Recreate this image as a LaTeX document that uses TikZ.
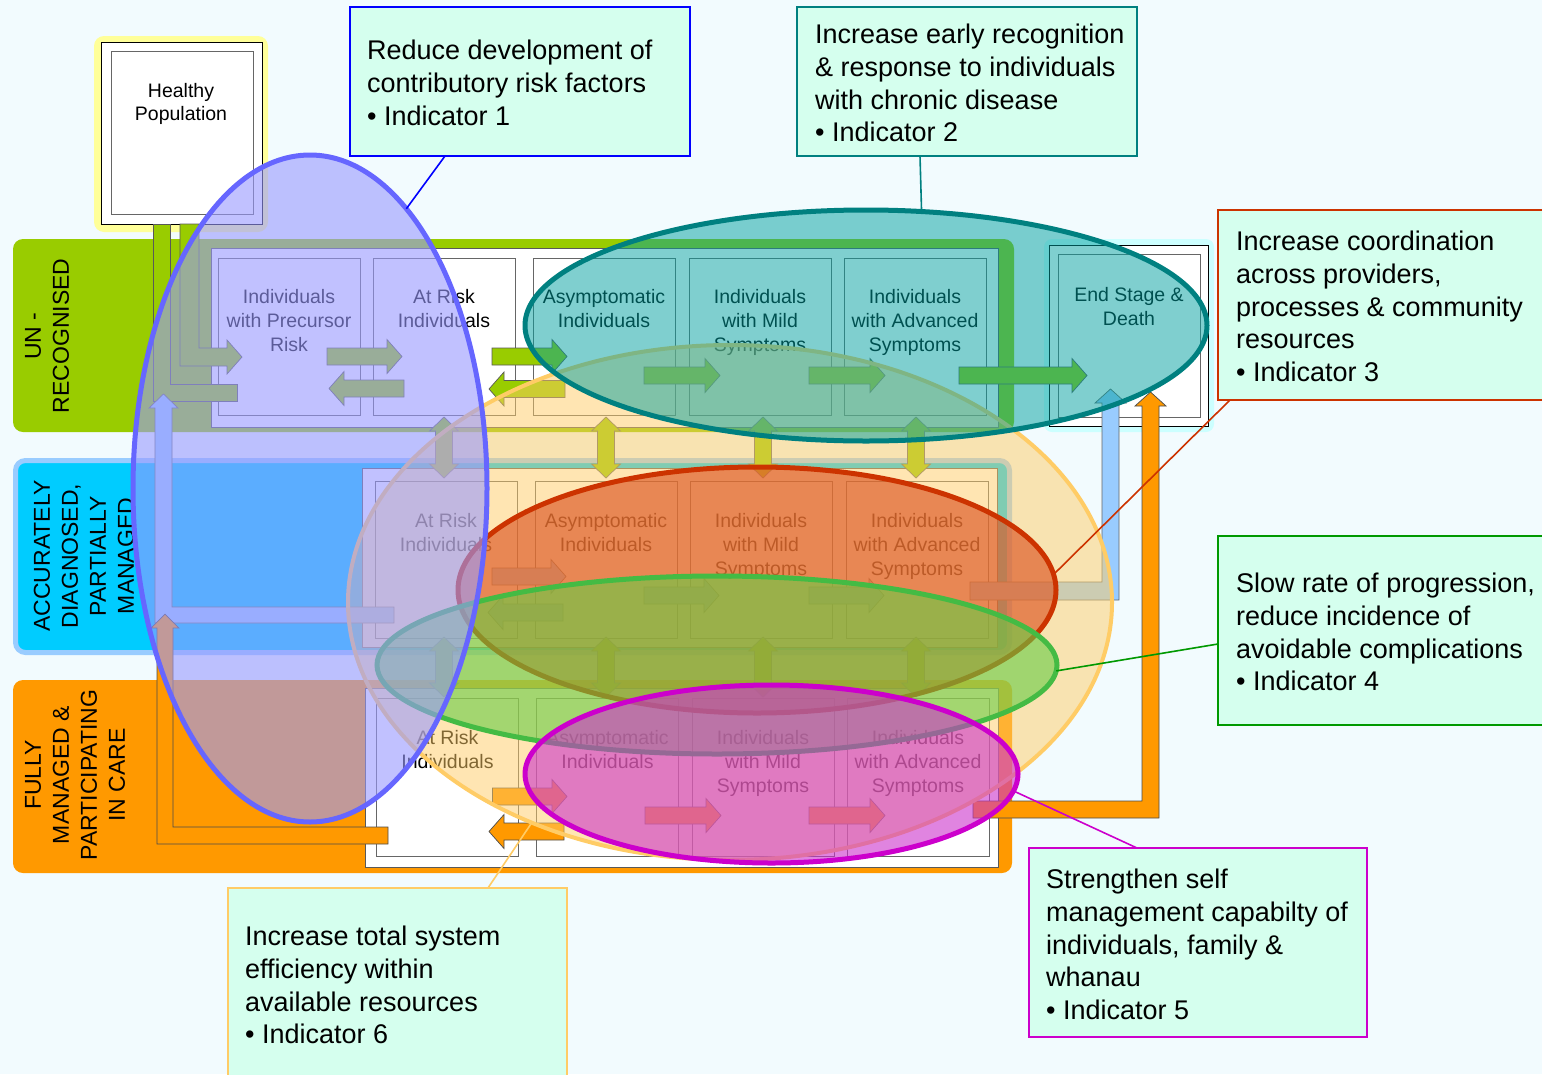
\documentclass[tikz,border=0pt]{standalone}
\usepackage{fontspec}
\setmainfont{Liberation Sans}
\usetikzlibrary{calc,shapes.geometric}
\definecolor{bgc}{HTML}{F2FBFE}
\definecolor{bandA}{HTML}{99CC00}
\definecolor{bandB}{HTML}{00CCFF}
\definecolor{bandBrim}{HTML}{99CCFF}
\definecolor{bandC}{HTML}{FF9900}
\definecolor{glowY}{HTML}{FFFF99}
\definecolor{glowC}{HTML}{CCFFFF}
\definecolor{calloutfill}{HTML}{D5FFEE}
\definecolor{arrG}{HTML}{99CC00}
\definecolor{arrB}{HTML}{99CCFF}
\definecolor{arrO}{HTML}{FF9900}
\definecolor{arrY}{HTML}{99CC00}
\definecolor{effS}{HTML}{FFCC66}
\definecolor{effF}{HTML}{FFCC66}
\definecolor{redS}{HTML}{CC3300}
\definecolor{redF}{HTML}{DD5522}
\definecolor{grnS}{HTML}{44BB44}
\definecolor{grnF}{HTML}{66CC44}
\definecolor{magS}{HTML}{CC00CC}
\definecolor{magF}{HTML}{CC33CC}
\definecolor{tealS}{HTML}{008080}
\definecolor{tealF}{HTML}{00A0A0}
\definecolor{bluS}{HTML}{6666FF}
\definecolor{bluF}{HTML}{9999FF}
\definecolor{lnBlue}{HTML}{0000FF}
\definecolor{lnTeal}{HTML}{008080}
\definecolor{lnRed}{HTML}{CC3300}
\definecolor{lnGreen}{HTML}{009900}
\definecolor{lnMag}{HTML}{CC00CC}
\definecolor{lnOr}{HTML}{FFCC66}

\newcommand{\BArrR}[4]{\draw[#1] ({#2},{#4-8.5}) -- ({#3-15},{#4-8.5}) -- ({#3-15},{#4-17}) -- ({#3},{#4}) -- ({#3-15},{#4+17}) -- ({#3-15},{#4+8.5}) -- ({#2},{#4+8.5}) -- cycle;}
\newcommand{\BArrL}[4]{\draw[#1] ({#2},{#4-8.5}) -- ({#3+15},{#4-8.5}) -- ({#3+15},{#4-17}) -- ({#3},{#4}) -- ({#3+15},{#4+17}) -- ({#3+15},{#4+8.5}) -- ({#2},{#4+8.5}) -- cycle;}
\newcommand{\BArrV}[4]{\draw[#1] ({#2},{#3}) -- ({#2+14.5},{#3+14}) -- ({#2+8.5},{#3+14}) -- ({#2+8.5},{#4-14}) -- ({#2+14.5},{#4-14}) -- ({#2},{#4}) -- ({#2-14.5},{#4-14}) -- ({#2-8.5},{#4-14}) -- ({#2-8.5},{#3+14}) -- ({#2-14.5},{#3+14}) -- cycle;}

\tikzset{
  cellbox/.style={draw=black!60, line width=0.8pt, fill=white, minimum width=142pt, minimum height=157pt, inner sep=0pt, outer sep=0pt},
  contbox/.style={draw=black!65, line width=0.8pt, fill=white},
  ctext/.style={font=\fontsize{19.5}{24}\selectfont, align=center, inner sep=0pt, anchor=north, text=black},
  rowlab/.style={font=\fontsize{23}{28}\selectfont, align=center, inner sep=0pt, rotate=90, text=black},
  garr/.style={fill=arrG, draw=black!65, line width=0.7pt},
  barr/.style={fill=arrB, draw=black!60, line width=0.7pt},
  oarr/.style={fill=arrO, draw=black!70, line width=0.7pt},
  yarr/.style={fill=arrY, draw=black!60, line width=0.7pt},
  oval/.style={ellipse, inner sep=0pt, outer sep=0pt, line width=5pt},
  callout/.style={fill=calloutfill, line width=2pt, inner sep=0pt, outer sep=0pt, anchor=north west},
  calltext/.style={font=\fontsize{27}{32.7}\selectfont, align=left, inner sep=0pt, anchor=north west, text=black},
  conn/.style={line width=1.6pt}
}

\begin{document}
\begin{tikzpicture}[x=1pt,y=-1pt]
\useasboundingbox (0,0) rectangle (1542,1074);
\fill[bgc] (0,0) rectangle (1542,1074);

% ---------- bands ----------
\fill[bandA, rounded corners=10pt] (13,239) rectangle (1014,432);
\draw[bandBrim, fill=bandB, line width=5pt, rounded corners=10pt] (15.5,460.5) rectangle (1009.5,652.5);
\fill[bandC, rounded corners=10pt] (13,680) rectangle (1012,873);

% ---------- row labels ----------
\node[rowlab] (labA) at (47,336) {UN -\\RECOGNISED};
\node[rowlab] (labB) at (84,556) {ACCURATELY\\DIAGNOSED,\\PARTIALLY\\MANAGED};
\node[rowlab] (labC) at (75,775) {FULLY\\MANAGED \&\\PARTICIPATING\\IN CARE};

% ---------- Healthy population ----------
\fill[glowY, rounded corners=10pt] (94,36) rectangle (268,232);
\draw[black, line width=0.9pt, fill=white] (101,42) rectangle (262,224);
\node[draw=black!60, line width=0.9pt, fill=white, minimum width=142pt, minimum height=163pt, inner sep=0pt, outer sep=0pt] (healthy) at (182,132.5) {};
\node[ctext, font=\fontsize{19.5}{23}\selectfont] (healthyT) at (181,83) {Healthy\\Population};

% ---------- End stage ----------
\fill[glowC, rounded corners=8pt] (1044,239) rectangle (1214,432);
\draw[black, line width=0.9pt, fill=white] (1049,245) rectangle (1208,426);
\node[cellbox, minimum height=163pt] (endst) at (1129,335.5) {};
\node[ctext] (endstT) at (1129,287) {End Stage \&\\Death};

% ---------- containers ----------
\draw[contbox] (211,248) rectangle (998,427);
\draw[contbox] (362,468) rectangle (997,647);
\draw[contbox] (365,688) rectangle (998,867);

% ---------- row 1 cells ----------
\node[cellbox] (a1) at (289,336.5) {};
\node[cellbox] (a2) at (444,336.5) {};
\node[cellbox] (a3) at (604,336.5) {};
\node[cellbox] (a4) at (760,336.5) {};
\node[cellbox] (a5) at (915,336.5) {};
\node[ctext] at (289,289) {Individuals\\with Precursor\\Risk};
\node[ctext] at (444,289) {At Risk\\Individuals};
\node[ctext] at (604,289) {Asymptomatic\\Individuals};
\node[ctext] at (760,289) {Individuals\\with Mild\\Symptoms};
\node[ctext] at (915,289) {Individuals\\with Advanced\\Symptoms};

% ---------- row 2 cells ----------
\node[cellbox] (b2) at (446,559.5) {};
\node[cellbox] (b3) at (606,559.5) {};
\node[cellbox] (b4) at (761,559.5) {};
\node[cellbox] (b5) at (917,559.5) {};
\node[ctext] at (446,513) {At Risk\\Individuals};
\node[ctext] at (606,513) {Asymptomatic\\Individuals};
\node[ctext] at (761,513) {Individuals\\with Mild\\Symptoms};
\node[ctext] at (917,513) {Individuals\\with Advanced\\Symptoms};

% ---------- row 3 cells ----------
\node[cellbox, minimum height=158pt] (c2) at (447.5,777) {};
\node[cellbox, minimum height=158pt] (c3) at (607.5,777) {};
\node[cellbox, minimum height=158pt] (c4) at (763,777) {};
\node[cellbox, minimum height=158pt] (c5) at (918,777) {};
\node[ctext] at (447.5,730) {At Risk\\Individuals};
\node[ctext] at (607.5,730) {Asymptomatic\\Individuals};
\node[ctext] at (763,730) {Individuals\\with Mild\\Symptoms};
\node[ctext] at (918,730) {Individuals\\with Advanced\\Symptoms};

% ---------- pipes from healthy population ----------
\draw[garr] (180,224) -- (180,366) -- (227,366) -- (227,374) -- (242,357) -- (227,340) -- (227,348) -- (199,348) -- (199,224) -- cycle;
\draw[garr] (153,224) -- (153,401) -- (237,401) -- (237,384) -- (170,384) -- (170,224) -- cycle;

% ---------- row 1 arrows ----------
\BArrR{garr}{327}{402}{356.5}
\BArrL{garr}{404}{329}{388.5}
\BArrR{garr}{492}{567}{356.5}
\BArrL{garr}{565}{489}{389}
\BArrR{garr}{644}{720}{375.5}
\BArrR{garr}{809}{885}{375.5}
\BArrR{garr}{959}{1087}{375.5}

% ---------- row 2 arrows ----------
\BArrR{barr}{492}{566}{576.5}
\BArrL{barr}{563}{488}{612.5}
\BArrR{barr}{644}{719}{595.5}
\BArrR{barr}{809}{884}{595.5}
\draw[barr] (970,582) -- (1102,582) -- (1102,403) -- (1095,403) -- (1110.5,389) -- (1126,403) -- (1119,403) -- (1119,600) -- (970,600) -- cycle;
\draw[barr] (394,607) -- (172,607) -- (172,408) -- (178,408) -- (163.5,394) -- (149,408) -- (155,408) -- (155,623) -- (394,623) -- cycle;

% ---------- row 3 arrows ----------
\BArrR{oarr}{492.5}{567}{796.5}
\BArrL{oarr}{564}{489}{831.5}
\BArrR{oarr}{645}{721}{815.5}
\BArrR{oarr}{809}{885}{815.5}
\draw[oarr] (973,801) -- (1142,801) -- (1142,406) -- (1135,406) -- (1150.5,392) -- (1166,406) -- (1159,406) -- (1159,818) -- (973,818) -- cycle;
\draw[oarr] (388,827) -- (173,827) -- (173,628) -- (179,628) -- (165,614) -- (151,628) -- (157,628) -- (157,844) -- (388,844) -- cycle;

% ---------- vertical double arrows ----------
\BArrV{yarr}{444}{417}{478}
\BArrV{yarr}{606}{417}{478}
\BArrV{yarr}{763}{417}{478}
\BArrV{yarr}{916}{417}{478}
\BArrV{yarr}{444}{637}{697}
\BArrV{yarr}{606}{637}{697}
\BArrV{yarr}{763}{637}{697}
\BArrV{yarr}{916}{637}{697}

% ---------- overlay ellipses ----------
\node[oval, line width=4pt, draw=effS, fill=effF, fill opacity=0.5, minimum width=764pt, minimum height=515pt] (effE) at (730,602.5) {};
\node[oval, draw=redS, fill=redF, fill opacity=0.65, minimum width=598pt, minimum height=246pt] (redE) at (757,590) {};
\node[oval, draw=grnS, fill=grnF, fill opacity=0.6, minimum width=680pt, minimum height=178pt] (grnE) at (717,665) {};
\node[oval, draw=magS, fill=magF, fill opacity=0.6, minimum width=493pt, minimum height=178pt] (magE) at (771.5,774) {};
\node[oval, draw=tealS, fill=tealF, fill opacity=0.5, minimum width=682pt, minimum height=231pt] (tealE) at (866,325.5) {};
\node[oval, draw=bluS, fill=bluF, fill opacity=0.6, minimum width=354pt, minimum height=667pt] (bluE) at (310,488.5) {};

% ---------- callouts ----------
\node[callout, draw=lnBlue, minimum width=340pt, minimum height=149pt] (co1) at (350,7) {};
\node[calltext] (co1t) at (367,40) {Reduce development of\\contributory risk factors\\• Indicator 1};

\node[callout, draw=lnTeal, minimum width=340pt, minimum height=149pt] (co2) at (797,7) {};
\node[calltext] (co2t) at (815,24) {Increase early recognition\\\& response to individuals\\with chronic disease\\• Indicator 2};

\node[callout, draw=lnRed, minimum width=340pt, minimum height=190pt] (co3) at (1218,210) {};
\node[calltext] (co3t) at (1236,231) {Increase coordination\\across providers,\\processes \& community\\resources\\• Indicator 3};

\node[callout, draw=lnGreen, minimum width=340pt, minimum height=189pt] (co4) at (1218,536) {};
\node[calltext] (co4t) at (1236,573) {Slow rate of progression,\\reduce incidence of\\avoidable complications\\• Indicator 4};

\node[callout, draw=lnMag, minimum width=338pt, minimum height=189pt] (co5) at (1029,848) {};
\node[calltext] (co5t) at (1046,869) {Strengthen self\\management capabilty of\\individuals, family \&\\whanau\\• Indicator 5};

\node[callout, draw=lnOr, minimum width=339pt, minimum height=200pt] (co6) at (228,888) {};
\node[calltext] (co6t) at (245,926) {Increase total system\\efficiency within\\available resources\\• Indicator 6};

% ---------- connectors ----------
\draw[conn, lnBlue] ($(co1.south west)+(95,0)$) -- (bluE.71.4);
\draw[conn, lnTeal] ($(co2.south west)+(123,0)$) -- (tealE.64.7);
\draw[conn, lnRed] ($(co3.south west)+(12,0)$) -- (redE.3);
\draw[conn, lnGreen] ($(co4.west)+(0,13.5)$) -- (grnE.-1);
\draw[conn, lnMag] ($(co5.north west)+(108,0)$) -- (magE.-4.7);
\draw[conn, lnOr] ($(co6.north west)+(260,0)$) -- (effE.228.7);
\end{tikzpicture}
\end{document}
